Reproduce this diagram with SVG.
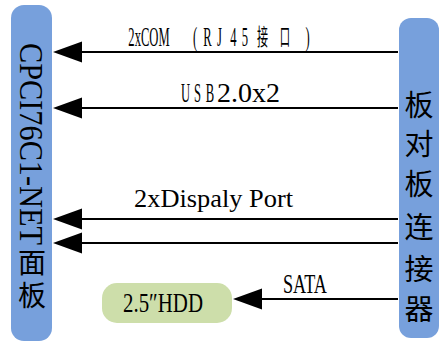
<svg xmlns="http://www.w3.org/2000/svg" width="441" height="351" viewBox="0 0 441 351">
<style>
.bar{fill:#77a0dc}
.lbl{font-family:"Liberation Serif","Noto Sans CJK SC",serif;fill:#000}
.cjk{font-family:"Noto Sans CJK SC","Noto Sans CJK JP",sans-serif;fill:#000}
.n{text-anchor:middle;font-size:28px}
.ln{stroke:#000;stroke-width:2;fill:none}
.ah{fill:#000}
</style>
<rect width="441" height="351" fill="#fff"/>
<g id="left-panel">
  <rect class="bar" x="11" y="5" width="41" height="336" rx="13"/>
  <text class="lbl" font-size="34" transform="translate(20,43) rotate(90)" textLength="202" lengthAdjust="spacingAndGlyphs">CPCI76C1-NET</text>
  <text class="cjk" font-size="28" x="32" y="248" writing-mode="vertical-rl" letter-spacing="5">面板</text>
</g>
<g id="right-connector">
  <rect class="bar" x="399" y="18" width="40" height="320" rx="12"/>
  <g class="cjk" font-size="29" text-anchor="middle">
    <text x="419" y="116">板</text>
    <text x="419" y="155">对</text>
    <text x="419" y="195">板</text>
    <text x="419" y="238">连</text>
    <text x="419" y="280">接</text>
    <text x="419" y="320">器</text>
  </g>
</g>
<g id="hdd">
  <rect x="102" y="283" width="130" height="40" rx="15" fill="#cddeaa"/>
  <text class="lbl" font-size="27" x="123" y="312" textLength="80" lengthAdjust="spacingAndGlyphs">2.5″HDD</text>
</g>
<g id="connectors">
  <line class="ln" x1="398" y1="52" x2="80" y2="52"/>
  <polygon class="ah" points="53,52 82,41.5 82,62.5"/>
  <line class="ln" x1="398" y1="108" x2="80" y2="108"/>
  <polygon class="ah" points="53,108 82,97.5 82,118.5"/>
  <line class="ln" x1="398" y1="219" x2="80" y2="219"/>
  <polygon class="ah" points="53,219 82,208.5 82,229.5"/>
  <line class="ln" x1="398" y1="243" x2="80" y2="243"/>
  <polygon class="ah" points="53,243 82,232.5 82,253.5"/>
  <line class="ln" x1="398" y1="299" x2="260" y2="299"/>
  <polygon class="ah" points="233,299 262,288.5 262,309.5"/>
</g>
<g id="labels">
  <text class="lbl n" transform="translate(149,46) scale(0.45,1)">2xCOM</text>
  <text class="lbl n" transform="translate(195,46) scale(0.45,1)">(</text>
  <text class="lbl n" transform="translate(207.5,46) scale(0.45,1)">R</text>
  <text class="lbl n" transform="translate(219.5,46) scale(0.45,1)">J</text>
  <text class="lbl n" transform="translate(233.5,46) scale(0.45,1)">4</text>
  <text class="lbl n" transform="translate(245,46) scale(0.45,1)">5</text>
  <text class="cjk n" style="font-size:23px" transform="translate(262.5,45) scale(0.48,1)">接</text>
  <text class="cjk n" style="font-size:23px" transform="translate(285,45) scale(0.45,1)">口</text>
  <text class="lbl n" transform="translate(307.5,46) scale(0.45,1)">)</text>
  <text class="lbl n" transform="translate(185.5,102) scale(0.45,1)">U</text>
  <text class="lbl n" transform="translate(197.5,102) scale(0.45,1)">S</text>
  <text class="lbl n" transform="translate(210,102) scale(0.45,1)">B</text>
  <text class="lbl" font-size="28" x="217" y="102" textLength="63" lengthAdjust="spacingAndGlyphs">2.0x2</text>
  <text class="lbl" font-size="26" x="134" y="207" textLength="159" lengthAdjust="spacingAndGlyphs">2xDispaly Port</text>
  <text class="lbl" font-size="27" x="283" y="293" textLength="44" lengthAdjust="spacingAndGlyphs">SATA</text>
</g>
</svg>
